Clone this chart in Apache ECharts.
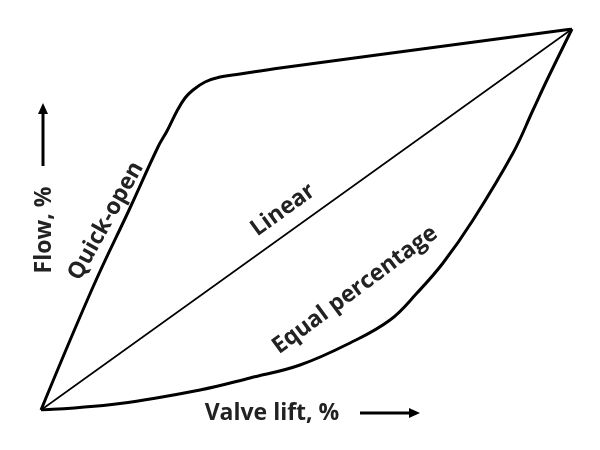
<!DOCTYPE html>
<html><head><meta charset="utf-8">
<script src="https://cdn.jsdelivr.net/npm/echarts@6/dist/echarts.min.js"></script>
<style>html,body{margin:0;padding:0;background:#fff}#c{width:600px;height:450px}</style>
</head><body><div id="c"></div>
<script>
// Valve lift (%) vs Flow (%)
var quickOpen = [[0,0],[9.79,32.28],[16.76,53.02],[22.03,69.03],[23.73,73.23],[25.61,78.48],[27.12,81.89],[28.63,83.99],[30.89,86.09],[33.71,87.40],[37.48,88.19],[45.01,89.76],[100,100]];
var linear = [[0,0],[100,100]];
var equalPct = [[0,0],[14.88,1.71],[29.94,5.25],[39.36,8.40],[48.78,11.81],[58.19,17.59],[65.73,23.62],[70.81,30.71],[75.71,38.58],[81.36,49.87],[88.89,67.45],[92.66,78.74],[95.29,86.61],[100,100]];
var seriesNames = ['Quick-open','Linear','Equal percentage'];
var xTitle = 'Valve lift, %';
var yTitle = 'Flow, %';

var chart = echarts.init(document.getElementById('c'));
var txtColor = '#222';
function label(text, x, y, deg, size) {
  return {type:'text', x:x, y:y, rotation:deg*Math.PI/180,
    style:{text:text, font:'bold '+(size||23)+'px "Open Sans", sans-serif', fill:txtColor, align:'center', verticalAlign:'middle'}};
}
chart.setOption({
  animation:false,
  grid:{left:41,right:28,top:29,bottom:40},
  xAxis:{type:'value',min:0,max:100,show:false},
  yAxis:{type:'value',min:0,max:100,show:false},
  series:[
    {name:seriesNames[0],type:'line',data:quickOpen,smooth:0.4,showSymbol:false,lineStyle:{color:'#000',width:3}},
    {name:seriesNames[1],type:'line',data:linear,showSymbol:false,lineStyle:{color:'#000',width:1.6}},
    {name:seriesNames[2],type:'line',data:equalPct,smooth:0.4,showSymbol:false,lineStyle:{color:'#000',width:3}}
  ],
  graphic:[
    label(seriesNames[0],106,221,61),
    label(seriesNames[1],283,210,36),
    label(seriesNames[2],355,290,36.5),
    label(yTitle,44,230,90),
    label(xTitle,272,413,0),
    {type:'line',shape:{x1:43,y1:166,x2:43,y2:112},style:{stroke:'#000',lineWidth:3}},
    {type:'polygon',shape:{points:[[43,103],[38,114],[48,114]]},style:{fill:'#000'}},
    {type:'line',shape:{x1:360,y1:413,x2:411,y2:413},style:{stroke:'#000',lineWidth:3}},
    {type:'polygon',shape:{points:[[420,413],[409,408],[409,418]]},style:{fill:'#000'}}
  ]
});
</script></body></html>
